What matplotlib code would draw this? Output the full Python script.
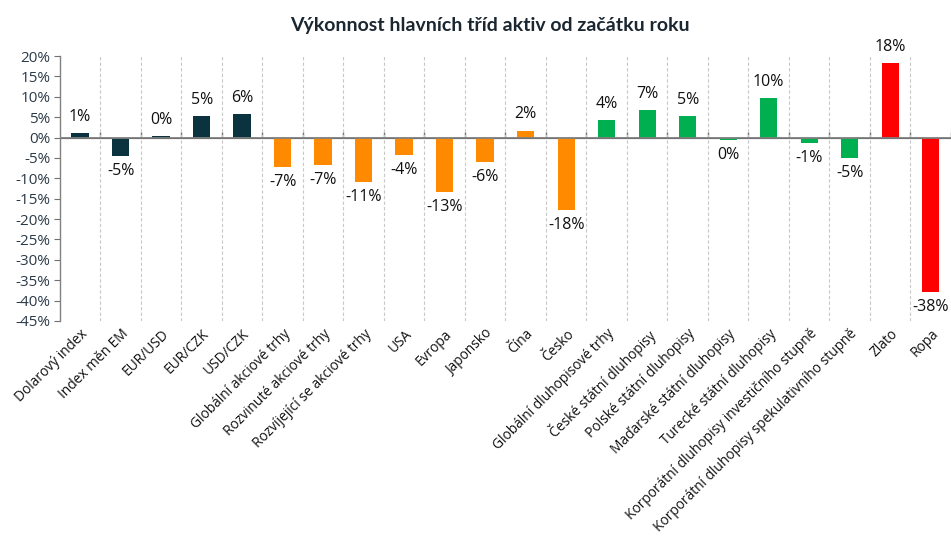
import matplotlib.pyplot as plt
import numpy as np

plt.rcParams['font.family'] = ['Open Sans', 'DejaVu Sans']

# Data
categories = ['Dolarový index', 'Index měn EM', 'EUR/USD', 'EUR/CZK', 'USD/CZK',
              'Globální akciové trhy', 'Rozvinuté akciové trhy', 'Rozvíjející se akciové trhy',
              'USA', 'Evropa', 'Japonsko', 'Čína', 'Česko',
              'Globální dluhopisové trhy', 'České státní dluhopisy', 'Polské státní dluhopisy',
              'Maďarské státní dluhopisy', 'Turecké státní dluhopisy',
              'Korporátní dluhopisy investičního stupně', 'Korporátní dluhopisy spekulativního stupně',
              'Zlato', 'Ropa']
values = [1.1, -4.6, 0.35, 5.3, 5.7,
          -7.3, -6.8, -10.8,
          -4.2, -13.4, -5.9, 1.7, -17.8,
          4.2, 6.7, 5.3,
          -0.5, 9.7,
          -1.4, -5.1,
          18.3, -37.9]
groups = ['fx'] * 5 + ['eq'] * 8 + ['bd'] * 7 + ['cm'] * 2
group_colors = {'fx': '#0A323F', 'eq': '#FF8A00', 'bd': '#00B050', 'cm': '#FF0000'}
yticks = list(range(-45, 25, 5))

fig = plt.figure(figsize=(9.51, 5.39), dpi=100)
ax = fig.add_axes([0.063, 0.4045, 0.937, 0.4915])

x = np.arange(len(categories))
colors = [group_colors[g] for g in groups]
ax.bar(x, values, width=0.43, color=colors, zorder=3)

# data labels
for xi, v in zip(x, values):
    if v >= 0:
        ax.annotate(f"{round(v):.0f}%", (xi, v), xytext=(0, 6), textcoords='offset points',
                    ha='center', va='bottom', fontsize=11.5, color='#111111')
    else:
        ax.annotate(f"{round(v):.0f}%", (xi, v), xytext=(0, -5), textcoords='offset points',
                    ha='center', va='top', fontsize=11.5, color='#111111')

ax.set_xlim(-0.5, len(categories) - 0.5)
ax.set_ylim(-45, 20)

# y axis
ax.set_yticks(yticks)
ax.set_yticklabels([f"{t}%" for t in yticks], fontsize=11, color='#2B3A48')
ax.tick_params(axis='y', direction='out', length=4, color='#707070', pad=3)

# x labels
ax.set_xticks(x)
ax.set_xticklabels(categories, rotation=45, ha='right', rotation_mode='anchor',
                   fontsize=9.9, color='#111111')
ax.tick_params(axis='x', length=0, pad=4)

# vertical dashed gridlines at category boundaries
bounds = np.arange(len(categories) - 1) + 0.5
for b in bounds:
    ax.axvline(b, color='#C8C8C8', linestyle=(0, (3, 2)), linewidth=0.8, zorder=1)

# zero line with boundary ticks
ax.axhline(0, color='#808080', linewidth=1.3, zorder=4)
sec = ax.secondary_xaxis(45 / 65)
sec.set_xticks(np.append(bounds, len(categories) - 0.5))
sec.set_xticklabels([])
sec.tick_params(axis='x', direction='out', length=4, color='#707070', width=1)
sec.spines['bottom'].set_visible(False)

for s in ['top', 'right', 'bottom']:
    ax.spines[s].set_visible(False)
ax.spines['left'].set_color('#808080')
ax.spines['left'].set_linewidth(1.0)

fig.text(0.515, 0.953, 'Výkonnost hlavních tříd aktiv od začátku roku', ha='center', va='center',
         fontsize=14, fontweight='bold', color='#1A2630', family=['Lato', 'DejaVu Sans'])

fig.savefig('out.png', dpi=100)
